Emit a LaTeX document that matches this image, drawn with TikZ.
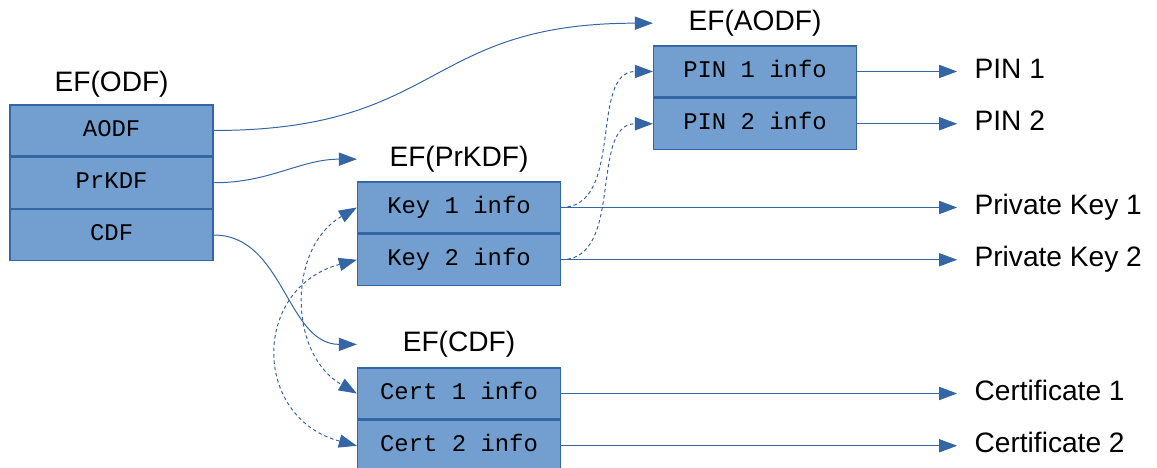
\documentclass[tikz,border=0pt]{standalone}
\usepackage{fontspec}
\setmainfont{Liberation Sans}
\setmonofont{Liberation Mono}
\usetikzlibrary{arrows.meta,positioning}
\definecolor{boxfill}{HTML}{729FCF}
\definecolor{boxline}{HTML}{3465A4}
\begin{document}
\begin{tikzpicture}[rows/.style={rectangle,draw=boxline,fill=boxfill,line width=0.9pt,
minimum width=5.075cm,minimum height=1.275cm,inner sep=0pt,
font=\ttfamily\fontsize{17}{20}\selectfont,text height=0.82em,text depth=0pt},
titles/.style={inner sep=0pt,font=\fontsize{20}{24}\selectfont},
labels/.style={inner sep=0pt,font=\fontsize{20}{24}\selectfont,text height=0.98em,text depth=0pt},
link/.style={draw=boxline,line width=0.7pt,-{Triangle[length=0.45cm,width=0.33cm]}},
ref/.style={link,dash pattern=on 2.5pt off 2pt},
pair/.style={ref,{Triangle[length=0.45cm,width=0.33cm]}-{Triangle[length=0.45cm,width=0.33cm]}},
node distance=0pt]
\useasboundingbox (0,0) rectangle (28.925,11.7);
% EF(ODF)
\node[rows] (o1) at (2.79,8.4375) {AODF};
\node[rows] (o2) [below=of o1] {PrKDF};
\node[rows] (o3) [below=of o2] {CDF};
\node[titles] (to) [above=0.18cm of o1] {EF(ODF)};
% EF(AODF)
\node[rows] (p1) at (18.875,9.9125) {PIN 1 info};
\node[rows] (p2) [below=of p1] {PIN 2 info};
\node[titles] (ta) [above=0.22cm of p1] {EF(AODF)};
% EF(PrKDF)
\node[rows] (k1) at (11.475,6.5125) {Key 1 info};
\node[rows] (k2) [below=of k1] {Key 2 info};
\node[titles] (tp) [above=0.22cm of k1] {EF(PrKDF)};
% EF(CDF)
\node[rows] (c1) at (11.475,1.8625) {Cert 1 info};
\node[rows] (c2) [below=of c1] {Cert 2 info};
\node[titles] (tc) [above=0.24cm of c1] {EF(CDF)};
% objects
\node[labels,right=2.93cm of p1] (pin1) {PIN 1};
\node[labels,right=2.93cm of p2] (pin2) {PIN 2};
\node[labels,right=10.33cm of k1] (pk1) {Private Key 1};
\node[labels,right=10.33cm of k2] (pk2) {Private Key 2};
\node[labels,right=10.33cm of c1] (ct1) {Certificate 1};
\node[labels,right=10.33cm of c2] (ct2) {Certificate 2};
% connectors
\draw[link] (o1.east) to[out=0,in=180,looseness=1.3] (p1.west |- ta);
\draw[link] (o2.east) to[out=0,in=180] (k1.west |- tp);
\draw[link] (o3.east) to[out=0,in=180] (c1.west |- tc);
\draw[link,shorten >=0.43cm] (p1.east) -- (pin1.west);
\draw[link,shorten >=0.43cm] (p2.east) -- (pin2.west);
\draw[link,shorten >=0.43cm] (k1.east) -- (pk1.west);
\draw[link,shorten >=0.43cm] (k2.east) -- (pk2.west);
\draw[link,shorten >=0.43cm] (c1.east) -- (ct1.west);
\draw[link,shorten >=0.43cm] (c2.east) -- (ct2.west);
\draw[ref] (k1.east) to[out=0,in=180] (p1.west);
\draw[ref] (k2.east) to[out=0,in=180] (p2.west);
\draw[pair] (k1.west) to[out=210,in=150,looseness=1.1] (c1.west);
\draw[pair] (k2.west) to[out=195,in=165,looseness=1.5] (c2.west);
\end{tikzpicture}
\end{document}
